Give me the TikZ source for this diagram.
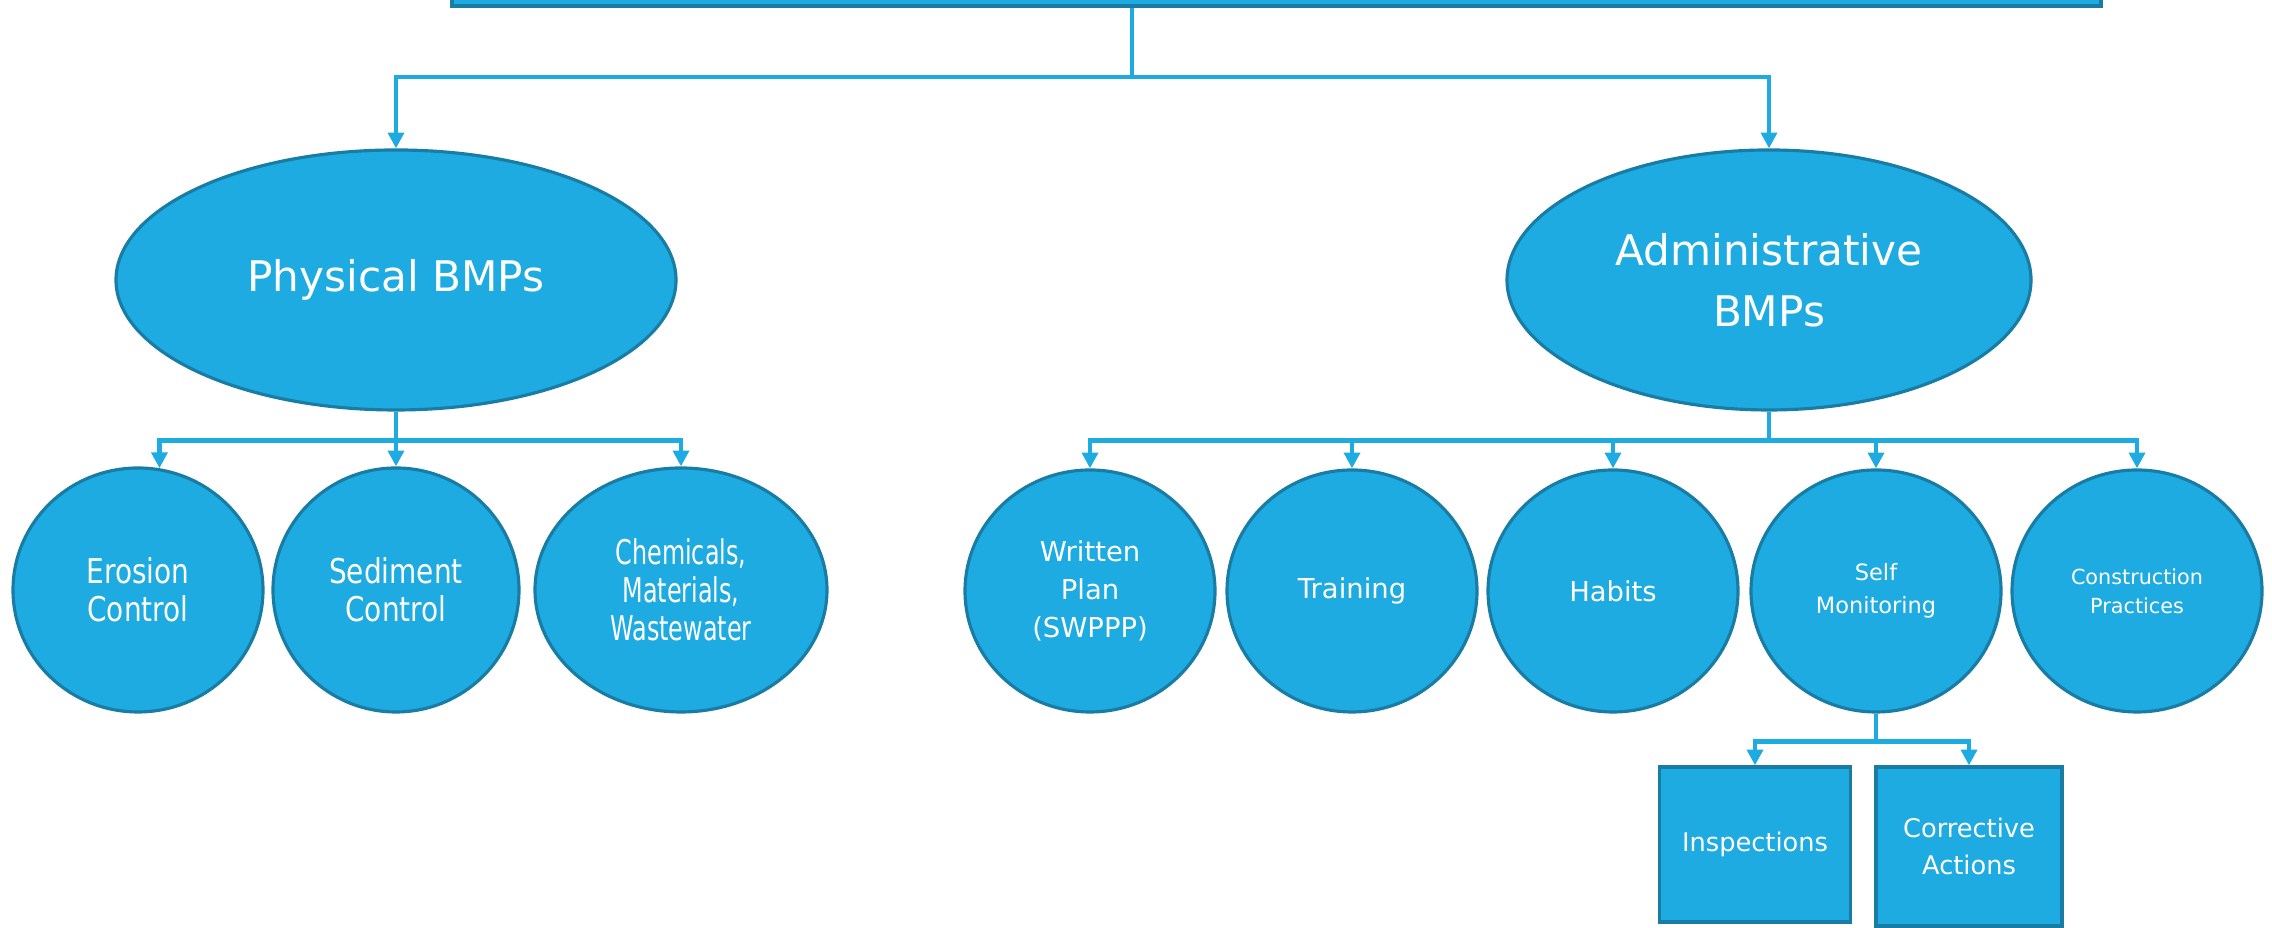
\documentclass[tikz,border=0pt]{standalone}
\usepackage{fontspec}
\setmainfont{DejaVu Sans}
\newfontfamily\condfont[FakeStretch=0.82]{DejaVu Sans}
\newfontfamily\narrowfont[FakeStretch=0.7]{DejaVu Sans}
\usetikzlibrary{shapes.geometric,arrows.meta}
\definecolor{bmpfill}{RGB}{30,171,226}
\definecolor{bmpedge}{RGB}{24,124,165}

\begin{document}
\begin{tikzpicture}[
  bubble/.style={ellipse, draw=bmpedge, fill=bmpfill, line width=0.9pt, text=white, align=center, inner sep=0pt},
  block/.style={rectangle, draw=bmpedge, fill=bmpfill, line width=0.9pt, text=white, align=center, inner sep=0pt},
  link/.style={draw=bmpfill, line width=1.3pt, -{Triangle[length=4.5pt,width=4.5pt]}},
  small/.style={font=\fontsize{7.8}{10.9}\selectfont}
]
\useasboundingbox (0,0) rectangle (22.72,9.28);
\node[block, minimum width=16.49cm, minimum height=1cm] (topbox) at (12.765,9.72) {};
\coordinate (split) at (11.32,8.51);
\draw[draw=bmpfill, line width=1pt] (topbox.south -| split) -- (split);

\node[bubble, minimum width=5.6cm, minimum height=2.6cm, font=\fontsize{12}{17}\selectfont] (phys) at (3.96,6.48) {Physical BMPs};
\node[bubble, minimum width=5.24cm, minimum height=2.6cm, font=\fontsize{12}{17.3}\selectfont] (admin) at (17.69,6.48) {Administrative\\BMPs};
\draw[link] (split) -| (phys.north);
\draw[link] (split) -| (admin.north);

\node[bubble, minimum width=2.5cm, minimum height=2.44cm, font=\condfont\fontsize{9.7}{10.9}\selectfont] (ero) at (1.38,3.38) {Erosion\\Control};
\node[bubble, minimum width=2.46cm, minimum height=2.44cm, font=\condfont\fontsize{9.7}{10.9}\selectfont] (sed) at (3.96,3.38) {Sediment\\Control};
\node[bubble, minimum width=2.92cm, minimum height=2.44cm, font=\narrowfont\fontsize{9.7}{10.9}\selectfont] (chem) at (6.81,3.38) {Chemicals,\\Materials,\\Wastewater};
\draw[link] (phys.south) -- ++(0,-0.29) -| (ero.80);
\draw[link] (phys.south) -- (sed.north);
\draw[link] (phys.south) -- ++(0,-0.29) -| (chem.north);

\node[bubble, minimum width=2.5cm, minimum height=2.42cm, small] (plan) at (10.90,3.37) {Written\\Plan\\(SWPPP)};
\node[bubble, minimum width=2.5cm, minimum height=2.42cm, small] (train) at (13.52,3.37) {Training};
\node[bubble, minimum width=2.5cm, minimum height=2.42cm, small] (habit) at (16.13,3.37) {Habits};
\node[bubble, minimum width=2.5cm, minimum height=2.42cm, font=\fontsize{6.4}{9.5}\selectfont] (selfmon) at (18.76,3.37) {Self\\Monitoring};
\node[bubble, minimum width=2.5cm, minimum height=2.42cm, font=\fontsize{5.9}{8.2}\selectfont] (constr) at (21.37,3.37) {Construction\\Practices};
\draw[link] (admin.south) -- ++(0,-0.29) -| (plan.north);
\draw[link] (admin.south) -- ++(0,-0.29) -| (train.north);
\draw[link] (admin.south) -- ++(0,-0.29) -| (habit.north);
\draw[link] (admin.south) -- ++(0,-0.29) -| (selfmon.north);
\draw[link] (admin.south) -- ++(0,-0.29) -| (constr.north);

\node[block, minimum width=1.91cm, minimum height=1.55cm, font=\fontsize{7.3}{10.3}\selectfont] (insp) at (17.55,0.835) {Inspections};
\node[block, minimum width=1.86cm, minimum height=1.59cm, font=\fontsize{7.3}{10.3}\selectfont] (corr) at (19.69,0.815) {Corrective\\Actions};
\draw[link] (selfmon.south) -- ++(0,-0.28) -| (insp.north);
\draw[link] (selfmon.south) -- ++(0,-0.28) -| (corr.north);
\end{tikzpicture}
\end{document}
